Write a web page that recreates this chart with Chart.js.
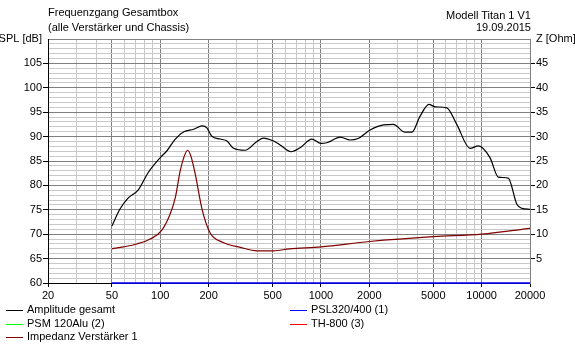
<!DOCTYPE html>
<html>
<head>
<meta charset="utf-8">
<script src="https://cdn.jsdelivr.net/npm/chart.js@4"></script>
<style>
  body { margin: 0; background: #fff; }
  #wrap { position: relative; width: 575px; height: 346px; font: 11px "Liberation Sans", Arial, sans-serif; color: #000; }
  canvas { position: absolute; left: 0; top: 0; }
  .t { position: absolute; white-space: nowrap; line-height: 13px; }
  .lg { position: absolute; white-space: nowrap; line-height: 13px; height: 13px; }
  .lg i { position: absolute; left: 0; top: 7px; width: 17px; height: 0; border-top: 1px solid; }
  .lg b { font-weight: normal; position: absolute; left: 21px; top: 0; }
</style>
</head>
<body>
<div id="wrap">
  <canvas id="myChart" width="575" height="346"></canvas>
  <div class="t" style="left:48px; top:6px;">Frequenzgang Gesamtbox</div>
  <div class="t" style="left:48px; top:21px;">(alle Verstärker und Chassis)</div>
  <div class="t" style="right:44px; top:9px; text-align:right;">Modell Titan 1 V1</div>
  <div class="t" style="right:44px; top:21px; text-align:right;">19.09.2015</div>
  <div class="lg" style="left:6px; top:303px;"><i style="border-color:#000000"></i><b>Amplitude gesamt</b></div>
  <div class="lg" style="left:6px; top:317px;"><i style="border-color:#00ff00"></i><b>PSM 120Alu (2)</b></div>
  <div class="lg" style="left:6px; top:330px;"><i style="border-color:#800000"></i><b>Impedanz Verstärker 1</b></div>
  <div class="lg" style="left:290px; top:303px;"><i style="border-color:#0000ff"></i><b>PSL320/400 (1)</b></div>
  <div class="lg" style="left:290px; top:317px;"><i style="border-color:#ff0000"></i><b>TH-800 (3)</b></div>
</div>
<script>
// Amplitude gesamt (SPL, dB)
const ampFreq = [50, 56, 63, 73, 84, 100, 110, 124, 140, 161, 182, 195, 209, 236, 260, 286, 337, 399, 439, 506, 557, 650, 741, 877, 1000, 1100, 1316, 1517, 1700, 2010, 2450, 2820, 3340, 3680, 4140, 4700, 5130, 6070, 7000, 8470, 9540, 11270, 12700, 14650, 16530, 17800, 20000];
const ampSpl = [71.7, 75.1, 77.4, 79.1, 82.6, 85.7, 87.1, 89.5, 91.0, 91.5, 92.2, 91.8, 90.1, 89.5, 89.1, 87.6, 87.2, 89.0, 89.7, 89.1, 88.3, 86.9, 87.7, 89.5, 88.6, 88.8, 89.9, 89.3, 89.6, 91.3, 92.4, 92.5, 90.9, 90.9, 94.2, 96.6, 96.1, 95.9, 92.5, 87.6, 88.1, 85.7, 81.7, 81.5, 76.2, 75.3, 75.1];

// Impedanz Verstärker 1 (Ohm)
const impFreq = [50, 59, 71.5, 86.6, 102, 115, 124, 133, 141, 148, 155, 165, 182, 204, 246, 315, 400, 506, 637, 1000, 2000, 5000, 10000, 20000];
const impOhm = [7.0, 7.4, 8.0, 9.0, 10.8, 14.1, 17.5, 23.0, 26.0, 27.2, 26.0, 22.3, 15.1, 10.3, 8.3, 7.3, 6.6, 6.6, 7.0, 7.4, 8.5, 9.5, 10.0, 11.2];

// PSL320/400 (1)
const pslFreq = [50, 20000];
const pslSpl = [60, 60];

// axis ticks
const freqGrid = [20, 30, 40, 50, 60, 70, 80, 90, 100, 200, 300, 400, 500, 600, 700, 800, 900, 1000, 2000, 3000, 4000, 5000, 6000, 7000, 8000, 9000, 10000, 20000];
const freqLabels = [20, 50, 100, 200, 500, 1000, 2000, 5000, 10000, 20000];
const splTicks = [60, 65, 70, 75, 80, 85, 90, 95, 100, 105];
const ohmTicks = [5, 10, 15, 20, 25, 30, 35, 40, 45];

const pts = (xs, ys) => xs.map((x, i) => ({ x: x, y: ys[i] }));
const range = (a, b) => { const r = []; for (let v = a; v <= b; v++) r.push({ value: v }); return r; };

Chart.defaults.font.family = '"Liberation Sans", Arial, sans-serif';
Chart.defaults.font.size = 11;
Chart.defaults.color = "#000";

const canvas = document.getElementById("myChart");

const myChart = new Chart(canvas, {
	type: "line",
	data: {
		datasets: [
			{
				label: "PSL320/400 (1)",
				data: pts(pslFreq, pslSpl),
				borderColor: "#0000ff",
				borderWidth: 1.5,
				pointRadius: 0,
				yAxisID: "y",
				clip: 2,
			},
			{
				label: "Impedanz Verstärker 1",
				data: pts(impFreq, impOhm),
				borderColor: "#800000",
				borderWidth: 1.2,
				pointRadius: 0,
				cubicInterpolationMode: "monotone",
				yAxisID: "z",
			},
			{
				label: "Amplitude gesamt",
				data: pts(ampFreq, ampSpl),
				borderColor: "#000000",
				borderWidth: 1.2,
				pointRadius: 0,
				cubicInterpolationMode: "monotone",
				yAxisID: "y",
			},
		],
	},
	options: {
		responsive: false,
		animation: false,
		layout: { padding: { top: 39, bottom: 46, left: 0, right: 0 } },
		plugins: {
			legend: { display: false },
			tooltip: { enabled: false },
		},
		scales: {
			x: {
				type: "logarithmic",
				min: 20,
				max: 20000,
				afterBuildTicks: (s) => { s.ticks = freqGrid.map((v) => ({ value: v })); },
				afterFit: (s) => { s.height = 17; },
				ticks: {
					autoSkip: false,
					maxRotation: 0,
					padding: 2,
					callback: (v) => (freqLabels.includes(v) ? String(v) : ""),
				},
				grid: {
					color: (c) => (freqLabels.includes(c.tick.value) ? "#808080" : "#c8c8c8"),
					tickColor: (c) => (freqLabels.includes(c.tick.value) ? "#000" : "rgba(0,0,0,0)"),
					tickLength: 4,
				},
				border: { color: "#000" },
			},
			y: {
				position: "left",
				min: 60,
				max: 110,
				afterBuildTicks: (s) => { s.ticks = range(60, 110); },
				afterFit: (s) => { s.width = 48; },
				ticks: {
					autoSkip: false,
					padding: 1,
					callback: (v) => (v === 110 ? "SPL [dB]" : splTicks.includes(v) ? String(v) : ""),
				},
				grid: {
					color: (c) => (c.tick.value % 5 === 0 ? "#808080" : "#c8c8c8"),
					tickColor: (c) => (splTicks.includes(c.tick.value) ? "#000" : "rgba(0,0,0,0)"),
					tickLength: 5,
				},
				border: { color: "#000" },
			},
			z: {
				position: "right",
				min: 0,
				max: 50,
				afterBuildTicks: (s) => { s.ticks = range(0, 50); },
				afterFit: (s) => { s.width = 45; },
				ticks: {
					autoSkip: false,
					padding: 1,
					callback: (v) => (v === 50 ? "Z [Ohm]" : ohmTicks.includes(v) ? String(v) : ""),
				},
				grid: {
					drawOnChartArea: false,
					tickColor: (c) => (ohmTicks.includes(c.tick.value) ? "#000" : "rgba(0,0,0,0)"),
					tickLength: 5,
				},
				border: { color: "#808080" },
			},
		},
	},
});
</script>
</body>
</html>
